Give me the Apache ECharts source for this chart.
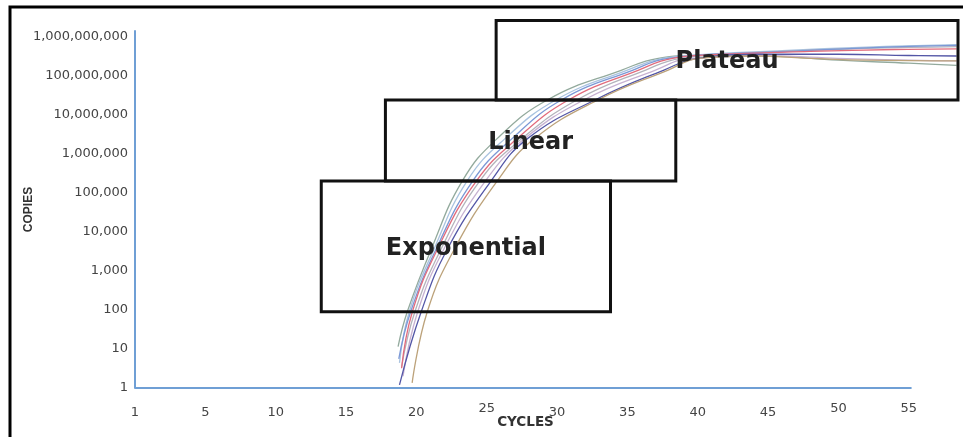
<!DOCTYPE html>
<html>
<head>
<meta charset="utf-8">
<script src="https://cdn.jsdelivr.net/npm/echarts@6/dist/echarts.min.js"></script>
<style>
  html, body { margin: 0; padding: 0; background: #fff; }
  #chart { width: 963px; height: 437px; }
</style>
</head>
<body>
<div id="chart"></div>
<script>
const xTickLabels = ['1', '5', '10', '15', '20', '25', '30', '35', '40', '45', '50', '55'];
const yTickLabels = ['1', '10', '100', '1,000', '10,000', '100,000', '1,000,000',
  '10,000,000', '100,000,000', '1,000,000,000'];

// [cycle, copies]
const grayGreen = [[18.7, 11.5], [19.36, 91], [21.06, 3600], [23.26, 2.0e5], [25.74, 2.45e6],
  [29.4, 2.5e7], [34.6, 1.4e8], [37.2, 2.8e8], [40, 3.3e8], [45, 3.2e8], [50, 2.5e8],
  [55, 2.1e8], [58.4, 1.85e8]];
const lightBlue = [[18.8, 4.4], [19.5, 91], [21.25, 3600], [23.6, 2.0e5], [26.3, 2.45e6],
  [30.0, 2.5e7], [35.0, 1.4e8], [37.5, 2.8e8], [41, 3.6e8], [46, 4.4e8], [52, 5.4e8],
  [58.4, 6.3e8]];
const red = [[18.95, 3.2], [19.72, 91], [21.5, 3600], [24.26, 2.0e5], [27.16, 2.45e6],
  [30.9, 2.5e7], [35.8, 1.4e8], [38.2, 2.8e8], [42, 3.55e8], [48, 4.2e8], [54, 4.7e8],
  [58.4, 4.9e8]];
const gray = [[18.95, 3.5], [19.9, 91], [21.75, 3600], [24.5, 2.0e5], [27.5, 2.45e6],
  [31.5, 2.5e7], [36.3, 1.4e8], [38.8, 2.8e8], [45, 4.0e8], [52, 5.0e8], [58.4, 5.6e8]];
const lavender = [[19.05, 2], [20.1, 91], [21.95, 3600], [24.9, 2.0e5], [27.7, 2.45e6],
  [32.0, 2.5e7], [37.0, 1.4e8], [39.5, 2.8e8], [45, 3.2e8], [50, 2.8e8], [55, 2.5e8],
  [58.4, 2.4e8]];
const navy = [[18.8, 1.2], [20.35, 91], [22.2, 3600], [25.3, 2.0e5], [27.9, 2.45e6],
  [32.8, 2.5e7], [37.6, 1.4e8], [40, 2.8e8], [45, 3.55e8], [50, 3.55e8], [55, 3.3e8],
  [58.4, 3.2e8]];
const blue = [[18.75, 5.6], [19.6, 91], [21.4, 3600], [24.0, 2.0e5], [26.8, 2.45e6],
  [30.4, 2.5e7], [35.4, 1.4e8], [37.9, 2.8e8], [45, 4.0e8], [52, 5.2e8], [58.4, 6.0e8]];
const tan = [[19.7, 1.35], [20.78, 91], [22.7, 3600], [25.74, 2.0e5], [28.4, 2.45e6],
  [33.0, 2.5e7], [37.9, 1.4e8], [40.1, 2.8e8], [44, 3.2e8], [48, 2.8e8], [52, 2.5e8],
  [58.4, 2.4e8]];

// phase boxes: name, [from cycle, to cycle], [low copies, high copies]
const boxNames = ['Exponential', 'Linear', 'Plateau'];
const boxCycles = [[13.24, 33.8], [17.8, 38.44], [25.67, 58.5]];
const boxCopies = [[90, 2.0e5], [2.0e5, 2.4e7], [2.4e7, 2.6e9]];

const curves = [
  { name: 'gray-green', data: grayGreen, color: '#93aa9d' },
  { name: 'light blue', data: lightBlue, color: '#a9c3df' },
  { name: 'gray', data: gray, color: '#b3b3bb' },
  { name: 'lavender', data: lavender, color: '#c7b2d2' },
  { name: 'blue', data: blue, color: '#7b98d6' },
  { name: 'red', data: red, color: '#e26b7c' },
  { name: 'navy', data: navy, color: '#5356a6' },
  { name: 'tan', data: tan, color: '#bca27a' },
];

const myChart = echarts.init(document.getElementById('chart'));

const lineSeries = curves.map((c) => ({
  name: c.name,
  type: 'line',
  data: c.data,
  showSymbol: false,
  smooth: 0.45,
  clip: false,
  z: 2,
  lineStyle: { width: 1.3, color: c.color },
}));

// visible x axis line stops at cycle 55 while the curves run on past it
lineSeries[0].markLine = {
  silent: true,
  symbol: 'none',
  label: { show: false },
  lineStyle: { color: '#6f9fd5', width: 2, type: 'solid' },
  data: [[{ coord: [0, 1] }, { coord: [55.2, 1] }]],
};

const boxSeries = {
  type: 'custom',
  z: 5,
  clip: false,
  data: boxNames.map((n, i) => [boxCycles[i][0], boxCycles[i][1], boxCopies[i][0], boxCopies[i][1]]),
  renderItem: (params, api) => {
    const p0 = api.coord([api.value(0), api.value(3)]);
    const p1 = api.coord([api.value(1), api.value(2)]);
    return {
      type: 'group',
      children: [
        {
          type: 'rect',
          shape: { x: p0[0], y: p0[1], width: p1[0] - p0[0], height: p1[1] - p0[1] },
          style: { fill: 'none', stroke: '#111', lineWidth: 3 },
        },
        {
          type: 'text',
          x: (p0[0] + p1[0]) / 2,
          y: (p0[1] + p1[1]) / 2 + 2,
          style: {
            text: boxNames[params.dataIndex],
            fontFamily: 'DejaVu Sans',
            fontWeight: 'bold',
            fontSize: 24,
            fill: '#222',
            align: 'center',
            verticalAlign: 'middle',
          },
        },
      ],
    };
  },
};

const option = {
  backgroundColor: '#fff',
  animation: false,
  grid: { left: 135, right: 5, top: 31, bottom: 49, outerBoundsMode: 'none' },
  graphic: [
    {
      type: 'polyline',
      shape: { points: [[10, 437], [10, 7], [963, 7]] },
      style: { stroke: '#000', lineWidth: 3, fill: 'none' },
    },
  ],
  xAxis: {
    type: 'value',
    min: 0,
    max: 58.5,
    interval: 5,
    name: 'CYCLES',
    nameLocation: 'middle',
    nameGap: 27,
    nameMoveOverlap: false,
    nameTextStyle: {
      fontFamily: 'DejaVu Sans', fontWeight: 'bold', fontSize: 13.5, color: '#333',
      padding: [0, 42, 0, 0],
    },
    axisLine: { show: false },
    axisTick: { show: false },
    splitLine: { show: false },
    axisLabel: {
      margin: 17,
      showMaxLabel: false,
      fontFamily: 'DejaVu Sans',
      fontSize: 13,
      color: '#444',
      formatter: (v) => {
        const label = xTickLabels[Math.round(v / 5)];
        if (label === undefined || v % 5 !== 0) return '';
        return (label === '25' || label === '50' || label === '55') ? '{up|' + label + '}' : '{n|' + label + '}';
      },
      rich: {
        n: { lineHeight: 15, fontFamily: 'DejaVu Sans', fontSize: 13, color: '#444' },
        up: { lineHeight: 7, fontFamily: 'DejaVu Sans', fontSize: 13, color: '#444' },
      },
    },
  },
  yAxis: {
    type: 'log',
    logBase: 10,
    min: 1,
    max: 1.4e9,
    splitNumber: 10,
    name: 'COPIES',
    nameLocation: 'middle',
    nameRotate: 90,
    nameGap: 100,
    nameMoveOverlap: false,
    nameTextStyle: { fontFamily: 'Liberation Sans', fontWeight: 'bold', fontSize: 12, color: '#333' },
    axisLine: { show: true, lineStyle: { color: '#6f9fd5', width: 2 } },
    axisTick: { show: false },
    splitLine: { show: false },
    axisLabel: {
      margin: 7,
      showMaxLabel: false,
      fontFamily: 'DejaVu Sans',
      fontSize: 13,
      color: '#444',
      formatter: (v) => {
        const e = Math.round(Math.log10(v));
        if (Math.abs(Math.log10(v) - e) > 0.01) return '';
        return yTickLabels[e] || '';
      },
    },
  },
  series: [...lineSeries, boxSeries],
};

myChart.setOption(option);
</script>
</body>
</html>
